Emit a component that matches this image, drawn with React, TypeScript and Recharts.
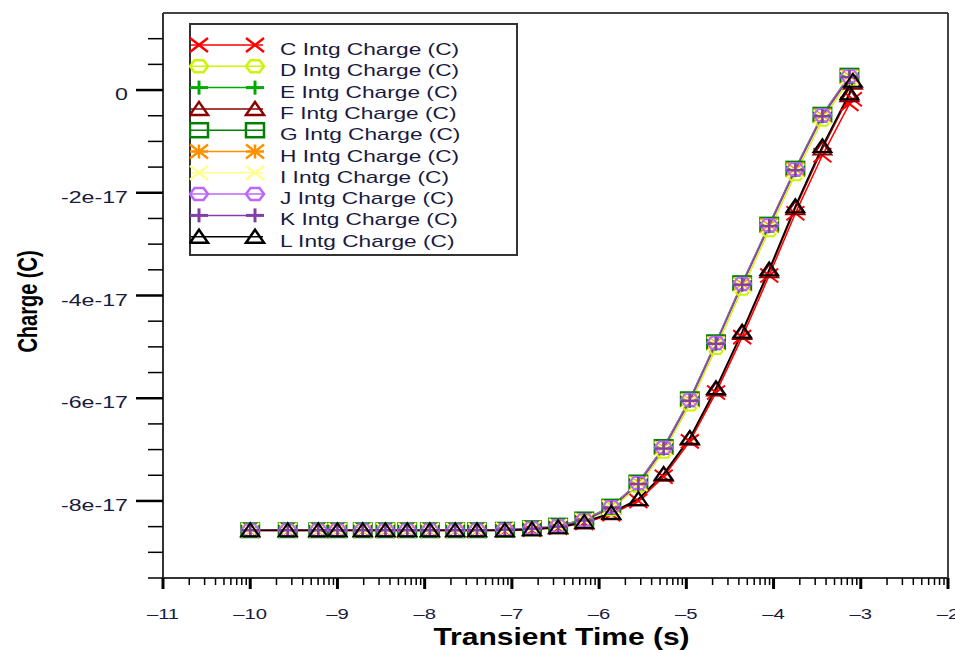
import { LineChart, Line, XAxis, YAxis, Legend, ReferenceLine } from 'recharts'

// log10 of transient time (s) at each saved step
const logTime = [
  -10, -9.57, -9.22, -9.0, -8.71, -8.45, -8.2, -7.94, -7.65, -7.4, -7.08, -6.77,
  -6.47, -6.17, -5.86, -5.55, -5.26, -4.96, -4.66, -4.36, -4.05, -3.75, -3.44, -3.13,
]
const logTimeLate = [...logTime, -3.09]

// integrated charge, in units of 1e-17 C
const UNIT = 1e-17
const chargeC = [
  -8.58, -8.58, -8.58, -8.58, -8.58, -8.58, -8.58, -8.58, -8.58, -8.58, -8.58, -8.56,
  -8.52, -8.43, -8.26, -8.0, -7.53, -6.84, -5.89, -4.81, -3.61, -2.4, -1.27, -0.27, -0.18,
]
const chargeD = [
  -8.57, -8.57, -8.57, -8.57, -8.57, -8.57, -8.57, -8.57, -8.57, -8.57, -8.56, -8.54,
  -8.5, -8.39, -8.16, -7.71, -7.04, -6.12, -5.02, -3.87, -2.73, -1.64, -0.58, 0.2,
]
const chargeE = [
  -8.57, -8.57, -8.57, -8.57, -8.57, -8.57, -8.57, -8.57, -8.57, -8.57, -8.56, -8.53,
  -8.49, -8.37, -8.12, -7.65, -6.96, -6.03, -4.92, -3.77, -2.63, -1.54, -0.49, 0.27,
]
const chargeF = [
  -8.57, -8.57, -8.57, -8.57, -8.57, -8.57, -8.57, -8.57, -8.57, -8.57, -8.57, -8.55,
  -8.51, -8.42, -8.24, -7.97, -7.49, -6.79, -5.83, -4.73, -3.53, -2.3, -1.14, -0.1, 0.14,
]
const chargeG = [
  -8.57, -8.57, -8.57, -8.57, -8.57, -8.57, -8.57, -8.57, -8.57, -8.57, -8.56, -8.53,
  -8.48, -8.36, -8.11, -7.64, -6.95, -6.02, -4.91, -3.76, -2.62, -1.53, -0.48, 0.28,
]
const chargeH = [
  -8.57, -8.57, -8.57, -8.57, -8.57, -8.57, -8.57, -8.57, -8.57, -8.57, -8.56, -8.53,
  -8.49, -8.37, -8.12, -7.65, -6.97, -6.04, -4.93, -3.78, -2.64, -1.55, -0.5, 0.26,
]
const chargeI = [
  -8.57, -8.57, -8.57, -8.57, -8.57, -8.57, -8.57, -8.57, -8.57, -8.57, -8.56, -8.53,
  -8.49, -8.38, -8.13, -7.67, -6.99, -6.06, -4.95, -3.81, -2.67, -1.58, -0.53, 0.24,
]
const chargeJ = [
  -8.57, -8.57, -8.57, -8.57, -8.57, -8.57, -8.57, -8.57, -8.57, -8.57, -8.56, -8.53,
  -8.49, -8.37, -8.12, -7.65, -6.96, -6.03, -4.92, -3.77, -2.63, -1.54, -0.49, 0.27,
]
const chargeK = [
  -8.57, -8.57, -8.57, -8.57, -8.57, -8.57, -8.57, -8.57, -8.57, -8.57, -8.56, -8.54,
  -8.5, -8.38, -8.13, -7.67, -6.98, -6.05, -4.94, -3.79, -2.65, -1.56, -0.51, 0.25,
]
const chargeL = [
  -8.57, -8.57, -8.57, -8.57, -8.57, -8.57, -8.57, -8.57, -8.57, -8.57, -8.57, -8.55,
  -8.51, -8.41, -8.23, -7.96, -7.47, -6.77, -5.8, -4.7, -3.49, -2.26, -1.09, -0.06, 0.18,
]

const seriesNames = ['C', 'D', 'E', 'F', 'G', 'H', 'I', 'J', 'K', 'L']
const seriesColors = ['#ff0000', '#ccf500', '#00aa00', '#8b0000', '#008000', '#ff9000', '#ffff90', '#bb66ff', '#8040a8', '#000000']
const seriesMarkers = ['x', 'diamond', 'plus', 'triangle', 'square', 'star', 'x', 'diamond', 'plus', 'triangle']
const seriesCharge = [chargeC, chargeD, chargeE, chargeF, chargeG, chargeH, chargeI, chargeJ, chargeK, chargeL]

const series = seriesNames.map((n, i) => {
  const values = seriesCharge[i]
  const times = values.length === logTimeLate.length ? logTimeLate : logTime
  return {
    name: `${n} Intg Charge (C)`,
    color: seriesColors[i],
    marker: seriesMarkers[i],
    data: times.map((t, j) => ({ t, q: values[j] * UNIT })),
  }
})

// decades with log minor ticks
const decades = [-11, -10, -9, -8, -7, -6, -5, -4, -3, -2]
const timeTicks: number[] = []
decades.forEach((d) => {
  timeTicks.push(d)
  if (d < -2) for (let k = 2; k <= 9; k++) timeTicks.push(d + Math.log10(k))
})
// every 0.5e-17 from -9.5e-17 up to 1e-17 (no tick on the top frame edge)
const chargeTicks = Array.from({ length: 22 }, (_, i) => (-9.5 + i * 0.5) * UNIT)

const TEXT = '#1a1a40'
const FONT = '"Liberation Sans", Arial, sans-serif'

function Marker({ kind, color, x, y, sw = 2 }: any) {
  const w = 9
  const h = 7
  const common = { stroke: color, strokeWidth: sw, fill: 'none' }
  if (kind === 'x' || kind === 'star') {
    return (
      <g {...common}>
        <line x1={x - w} y1={y - h} x2={x + w} y2={y + h} />
        <line x1={x - w} y1={y + h} x2={x + w} y2={y - h} />
        {kind === 'star' && <line x1={x - w} y1={y} x2={x + w} y2={y} />}
        {kind === 'star' && <line x1={x} y1={y - h} x2={x} y2={y + h} />}
      </g>
    )
  }
  if (kind === 'plus') {
    return (
      <g {...common} strokeWidth={sw + 0.5}>
        <line x1={x - w} y1={y} x2={x + w} y2={y} />
        <line x1={x} y1={y - h} x2={x} y2={y + h} />
      </g>
    )
  }
  if (kind === 'diamond') {
    const pts = [
      [x - w, y], [x - w / 2, y - h + 1], [x + w / 2, y - h + 1],
      [x + w, y], [x + w / 2, y + h - 1], [x - w / 2, y + h - 1],
    ].map((p) => p.join(',')).join(' ')
    return <polygon points={pts} {...common} />
  }
  if (kind === 'triangle') {
    return <polygon points={`${x - w},${y + h - 1} ${x},${y - h} ${x + w},${y + h - 1}`} {...common} />
  }
  return <rect x={x - w} y={y - h} width={w * 2} height={h * 2} {...common} />
}

function TimeTick({ x, y, payload }: any) {
  const v = payload.value
  const major = Math.abs(v - Math.round(v)) < 1e-6
  return (
    <g>
      <line x1={x} x2={x} y1={y} y2={y + (major ? 11 : 7)} stroke="#000" strokeWidth={major ? 3 : 1.5} />
      {major && (
        <text
          transform={`translate(${x},${y + 41}) scale(1.35,1)`}
          textAnchor="middle"
          fontSize={15}
          fontFamily={FONT}
          fill={TEXT}
        >
          {'\u2013' + Math.abs(Math.round(v))}
        </text>
      )}
    </g>
  )
}

function ChargeTick({ x, y, payload }: any) {
  const n = Math.round((payload.value / UNIT) * 2) / 2
  const major = n % 2 === 0
  return (
    <g>
      <line x1={x - (major ? 27 : 15)} x2={x} y1={y} y2={y} stroke="#000" strokeWidth={major ? 2.5 : 1.5} />
      {major && (
        <text
          transform={`translate(${x - 35},${y + 10}) scale(1.45,1)`}
          textAnchor="end"
          fontSize={16}
          fontFamily={FONT}
          fill={TEXT}
        >
          {n === 0 ? '0' : `${n}e-17`}
        </text>
      )}
    </g>
  )
}

function LegendBox() {
  return (
    <svg width={329} height={233} style={{ display: 'block' }}>
      <rect x={1} y={1} width={327} height={231} fill="#fff" stroke="#333" strokeWidth={2} />
      {series.map((s, i) => {
        const ly = 22 + i * 21.3
        return (
          <g key={s.name}>
            <line x1={2} x2={74} y1={ly} y2={ly} stroke={s.color} strokeWidth={1.5} />
            <Marker kind={s.marker} color={s.color} x={10} y={ly} sw={2.5} />
            <Marker kind={s.marker} color={s.color} x={66} y={ly} sw={2.5} />
            <text
              transform={`translate(91,${ly + 10}) scale(1.42,1)`}
              fontSize={16}
              fontFamily={FONT}
              fill={TEXT}
            >
              {s.name}
            </text>
          </g>
        )
      })}
    </svg>
  )
}

export default function App() {
  return (
    <div style={{ position: 'absolute', left: 0, top: 0, background: '#fff' }}>
      <LineChart width={955} height={650} margin={{ top: 13, right: 7, bottom: 0, left: 0 }}>
        <XAxis
          type="number"
          dataKey="t"
          domain={[-11, -2]}
          ticks={timeTicks}
          interval={0}
          allowDataOverflow
          tickSize={0}
          tickMargin={0}
          tickLine={false}
          tick={TimeTick}
          height={72}
          axisLine={{ stroke: '#333', strokeWidth: 2 }}
          label={{
            content: ({ viewBox }: any) => (
              <text
                transform={`translate(${viewBox.x + viewBox.width / 2 + 6},645) scale(1.25,1)`}
                textAnchor="middle"
                fontSize={24}
                fontWeight="bold"
                fontFamily={FONT}
                fill="#000"
              >
                Transient Time (s)
              </text>
            ),
          }}
        />
        <YAxis
          type="number"
          domain={[-9.5 * UNIT, 1.5 * UNIT]}
          ticks={chargeTicks}
          interval={0}
          allowDataOverflow
          tickSize={0}
          tickMargin={0}
          tickLine={false}
          tick={ChargeTick}
          width={163}
          axisLine={{ stroke: '#333', strokeWidth: 2 }}
          label={{
            content: ({ viewBox }: any) => (
              <text
                transform={`translate(27,${viewBox.y + viewBox.height / 2 + 6}) scale(1.4,1) rotate(-90)`}
                textAnchor="middle"
                dominantBaseline="central"
                fontSize={20}
                fontWeight="bold"
                fontFamily={FONT}
                fill="#000"
              >
                Charge (C)
              </text>
            ),
          }}
        />
        <ReferenceLine y={1.5 * UNIT} stroke="#444" strokeWidth={2} ifOverflow="visible" />
        <ReferenceLine x={-2} stroke="#444" strokeWidth={2} ifOverflow="visible" />
        {series.map((s) => (
          <Line
            key={s.name}
            data={s.data}
            dataKey="q"
            name={s.name}
            type="linear"
            stroke={s.color}
            strokeWidth={1.5}
            isAnimationActive={false}
            activeDot={false}
            dot={(p: any) => (
              <Marker key={`${s.name}-${p.index}`} kind={s.marker} color={s.color} x={p.cx} y={p.cy} />
            )}
          />
        ))}
        <Legend
          layout="horizontal"
          verticalAlign="middle"
          align="center"
          wrapperStyle={{ left: 189, top: 23, width: 329, height: 233 }}
          content={() => <LegendBox />}
        />
      </LineChart>
    </div>
  )
}
